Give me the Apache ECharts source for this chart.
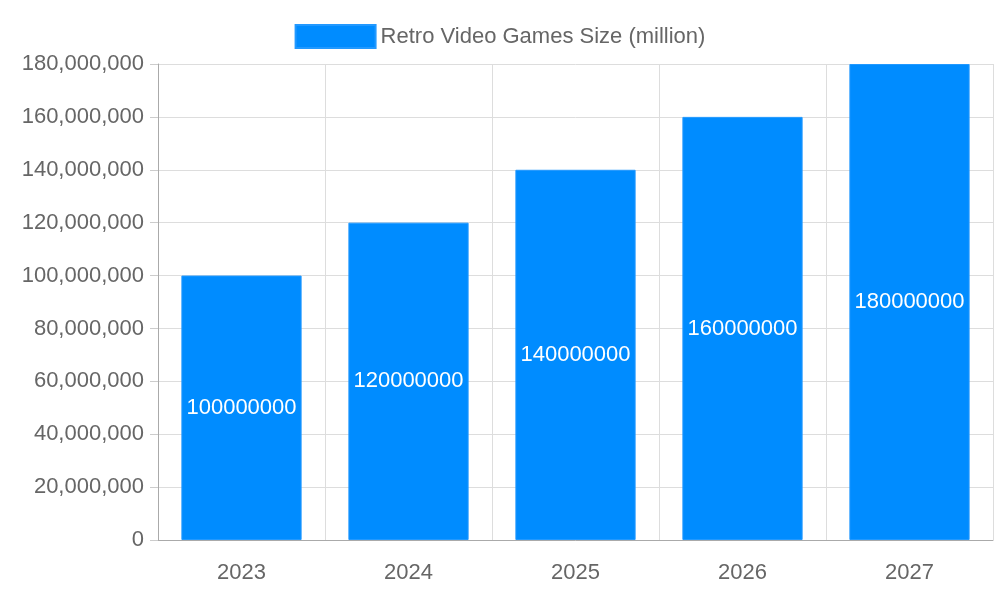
<!DOCTYPE html>
<html><head><meta charset="utf-8">
<script src="https://cdn.jsdelivr.net/npm/echarts@6/dist/echarts.min.js"></script>
<style>html,body{margin:0;padding:0;background:#fff}#c{width:1000px;height:600px}</style>
</head><body><div id="c"></div>
<script>
const categories = ['2023','2024','2025','2026','2027'];
const values = [100000000,120000000,140000000,160000000,180000000];
const seriesName = 'Retro Video Games Size (million)';
const chart = echarts.init(document.getElementById('c'));
const F = 'Liberation Sans, Arial, sans-serif';
chart.setOption({
  animation:false,
  textStyle:{fontFamily:F},
  legend:{top:19,left:'center',itemWidth:80,itemHeight:23,icon:'rect',itemGap:10,
    textStyle:{fontSize:22,color:'#666',fontFamily:F},data:[seriesName]},
  grid:{left:158,right:7,top:64,bottom:60},
  xAxis:{type:'category',data:categories,boundaryGap:true,
    axisLine:{lineStyle:{color:'#aaa'}},
    axisTick:{length:18,lineStyle:{color:'#ccc'}},
    splitLine:{show:true,lineStyle:{color:'#ddd'}},
    axisLabel:{fontSize:22,color:'#666',margin:22,fontFamily:F}},
  yAxis:{type:'value',min:0,max:180000000,interval:20000000,
    axisLine:{show:true,lineStyle:{color:'#aaa'}},
    axisTick:{show:true,length:8,lineStyle:{color:'#ccc'}},
    splitLine:{lineStyle:{color:'#ddd'}},
    axisLabel:{fontSize:22,color:'#666',margin:14,fontFamily:F}},
  series:[{name:seriesName,type:'bar',data:values,barWidth:'72%',
    itemStyle:{color:'#008cff',borderColor:'#2299ff',borderWidth:1},
    label:{show:true,position:'inside',color:'#fff',fontSize:22,fontFamily:F}}]
});
</script></body></html>
